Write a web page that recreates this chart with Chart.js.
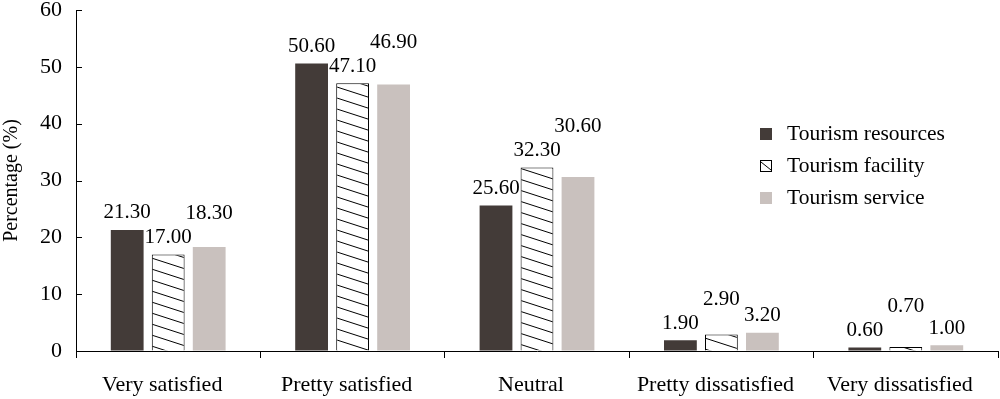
<!DOCTYPE html>
<html>
<head>
<meta charset="utf-8">
<script src="https://cdn.jsdelivr.net/npm/chart.js@4.4.0/dist/chart.umd.min.js"></script>
<style>
html, body { margin: 0; padding: 0; background: #fff; }
#wrap { width: 1000px; height: 399px; }
</style>
</head>
<body>
<div id="wrap"><canvas id="satChart" width="1000" height="399"></canvas></div>
<script>
// chart values
var categories = ['Very satisfied', 'Pretty satisfied', 'Neutral', 'Pretty dissatisfied', 'Very dissatisfied'];
var seriesNames = ['Tourism resources', 'Tourism facility', 'Tourism service'];
var resources = [21.3, 50.6, 25.6, 1.9, 0.6];
var facility = [17.0, 47.1, 32.3, 2.9, 0.7];
var service = [18.3, 46.9, 30.6, 3.2, 1.0];
var yTicks = [0, 10, 20, 30, 40, 50, 60];

var serif = '"Liberation Serif", "Times New Roman", serif';
var darkColor = '#433b38';
var lightColor = '#c9c1be';

// diagonal hatch fill for the facility bars
function makeHatch() {
    var c = document.createElement('canvas');
    c.width = 34;
    c.height = 11;
    var g = c.getContext('2d');
    g.fillStyle = '#fff';
    g.fillRect(0, 0, 34, 11);
    g.strokeStyle = '#000';
    g.lineWidth = 1;
    for (var k = -1; k <= 1; k++) {
        g.beginPath();
        g.moveTo(0, k * 11);
        g.lineTo(34, k * 11 + 11);
        g.stroke();
    }
    return g.createPattern(c, 'repeat');
}
var hatch = makeHatch();

// inward tick marks on the y axis
var yTickMarks = {
    id: 'yTickMarks',
    afterDraw: function (chart) {
        var ctx = chart.ctx;
        var scale = chart.scales.y;
        var left = chart.chartArea.left;
        ctx.save();
        ctx.strokeStyle = '#000';
        ctx.lineWidth = 1;
        scale.ticks.forEach(function (t) {
            var py = Math.round(scale.getPixelForValue(t.value)) + 0.5;
            ctx.beginPath();
            ctx.moveTo(left, py);
            ctx.lineTo(left + 6, py);
            ctx.stroke();
        });
        ctx.restore();
    }
};

// value labels above bars, raised when they would collide
var valueLabels = {
    id: 'valueLabels',
    afterDatasetsDraw: function (chart) {
        var ctx = chart.ctx;
        ctx.save();
        ctx.font = '21px ' + serif;
        ctx.fillStyle = '#000';
        ctx.textAlign = 'center';
        ctx.textBaseline = 'middle';
        for (var i = 0; i < categories.length; i++) {
            var placed = [];
            chart.data.datasets.forEach(function (ds, d) {
                var bar = chart.getDatasetMeta(d).data[i];
                var txt = ds.data[i].toFixed(2);
                var w = ctx.measureText(txt).width;
                var x = bar.x;
                var y = bar.y - 17;
                var moved = true;
                while (moved) {
                    moved = false;
                    placed.forEach(function (p) {
                        if (Math.abs(p.x - x) < (p.w + w) / 2 + 8 && Math.abs(p.y - y) < 16) {
                            y = p.y - 24;
                            moved = true;
                        }
                    });
                }
                placed.push({ x: x, y: y, w: w });
                ctx.fillText(txt, x, y);
            });
        }
        ctx.restore();
    }
};

// legend drawn inside the plot area, like the original
var boxLegend = {
    id: 'boxLegend',
    afterDraw: function (chart) {
        var ctx = chart.ctx;
        ctx.save();
        ctx.font = '21.5px ' + serif;
        ctx.textBaseline = 'middle';
        ctx.textAlign = 'left';
        chart.data.datasets.forEach(function (ds, d) {
            var x = 760, y = 128 + d * 32;
            ctx.fillStyle = ds.borderWidth ? '#fff' : ds.backgroundColor;
            ctx.fillRect(x, y, 12, 12);
            if (ds.borderWidth) {
                ctx.strokeStyle = '#000';
                ctx.lineWidth = 1;
                ctx.strokeRect(x + 0.5, y + 0.5, 11, 11);
                ctx.beginPath();
                ctx.moveTo(x + 1, y + 2);
                ctx.lineTo(x + 11, y + 10);
                ctx.stroke();
            }
            ctx.fillStyle = '#000';
            ctx.fillText(ds.label, 787, y + 6);
        });
        ctx.restore();
    }
};

var ctx = document.getElementById('satChart').getContext('2d');
new Chart(ctx, {
    type: 'bar',
    data: {
        labels: categories,
        datasets: [
            { label: seriesNames[0], data: resources, backgroundColor: darkColor, borderWidth: 0 },
            { label: seriesNames[1], data: facility, backgroundColor: hatch, borderColor: '#000', borderWidth: 1 },
            { label: seriesNames[2], data: service, backgroundColor: lightColor, borderWidth: 0 }
        ]
    },
    options: {
        responsive: false,
        animation: false,
        devicePixelRatio: 1,
        layout: { padding: { top: 10, right: 2, left: 0, bottom: 0 } },
        datasets: { bar: { categoryPercentage: 0.667, barPercentage: 0.8 } },
        plugins: {
            legend: { display: false },
            tooltip: { enabled: false }
        },
        scales: {
            x: {
                afterFit: function (scale) {
                    scale.height = 48;
                    scale.paddingLeft = 0;
                    scale.paddingRight = 0;
                },
                grid: { offset: true, drawOnChartArea: false, tickLength: 7, color: '#000', lineWidth: 1 },
                border: { display: true, color: '#000', width: 1 },
                ticks: { color: '#000', font: { family: serif, size: 22 }, padding: 14, maxRotation: 0, labelOffset: -6 }
            },
            y: {
                min: 0,
                max: 60,
                afterFit: function (scale) {
                    scale.width = 76;
                    scale.paddingTop = 0;
                    scale.paddingBottom = 0;
                },
                afterBuildTicks: function (scale) {
                    scale.ticks = yTicks.map(function (v) { return { value: v }; });
                },
                grid: { drawOnChartArea: false, drawTicks: false },
                border: { display: true, color: '#000', width: 1 },
                ticks: { color: '#000', font: { family: serif, size: 22 }, padding: 14 },
                title: {
                    display: true,
                    text: 'Percentage (%)',
                    color: '#000',
                    font: { family: serif, size: 20 },
                    padding: { top: 0, bottom: 0 }
                }
            }
        }
    },
    plugins: [yTickMarks, valueLabels, boxLegend]
});
</script>
</body>
</html>
